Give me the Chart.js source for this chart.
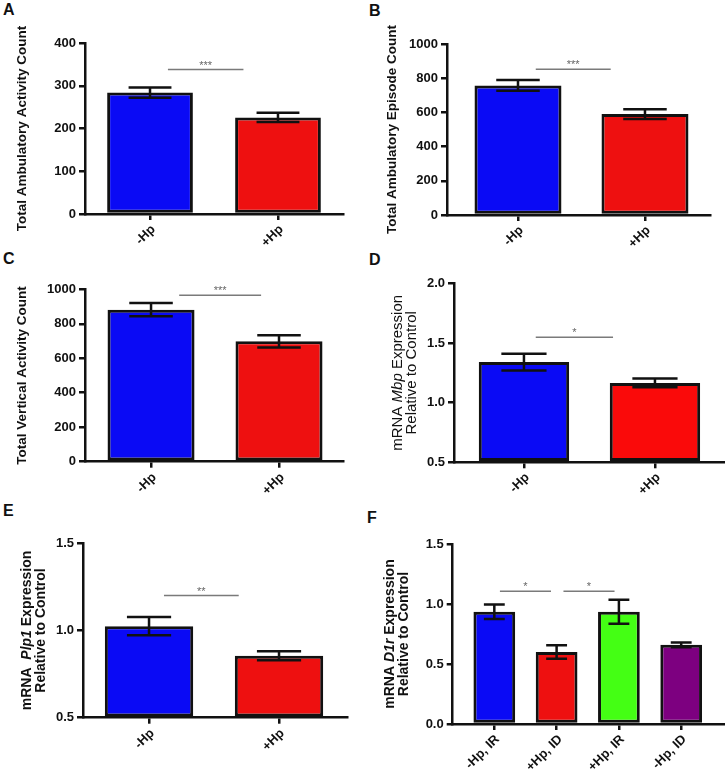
<!DOCTYPE html>
<html><head><meta charset="utf-8">
<script src="https://cdn.jsdelivr.net/npm/chart.js@4.4.1/dist/chart.umd.min.js"></script>
<style>
html,body{margin:0;padding:0;background:#fff}
body{width:725px;height:773px;position:relative;overflow:hidden;font-family:"Liberation Sans",Arial,sans-serif}
canvas{position:absolute}
.lbl{position:absolute;font-weight:bold;font-size:16px;line-height:16px;color:#111}
.xl{position:absolute;font-weight:bold;font-size:13px;line-height:14px;color:#111;white-space:nowrap;
    transform-origin:100% 50%;transform:translate(-100%,-50%) rotate(-45deg)}
</style></head><body>
<div class="lbl" style="left:3px;top:2px">A</div>
<div class="lbl" style="left:369px;top:3px">B</div>
<div class="lbl" style="left:3px;top:251px">C</div>
<div class="lbl" style="left:369px;top:252px">D</div>
<div class="lbl" style="left:3px;top:503px">E</div>
<div class="lbl" style="left:367px;top:510px">F</div>
<canvas id="cA"></canvas><canvas id="cB"></canvas><canvas id="cC"></canvas>
<canvas id="cD"></canvas><canvas id="cE"></canvas><canvas id="cF"></canvas>
<script>
// ---------------- data ----------------
const catsHp = ['-Hp', '+Hp'];
const catsF = ['-Hp, IR', '+Hp, ID', '+Hp, IR', '-Hp, ID'];
const colorsHp = ['#0a0af5', '#ee1010'];
const colorsF = ['#0a0af5', '#ee1010', '#44ff14', '#7d0080'];

const meanA = [284, 226];
const semA = [12, 11];
const ticksA = [0, 100, 200, 300, 400];
const sigA = [{from: 0.14, to: 0.73, y: 338, text: '***'}];

const meanB = [758, 590];
const semB = [31, 28];
const ticksB = [0, 200, 400, 600, 800, 1000];
const sigB = [{from: 0.14, to: 0.73, y: 852, text: '***'}];

const meanC = [882, 698];
const semC = [38, 35];
const ticksC = [0, 200, 400, 600, 800, 1000];
const sigC = [{from: 0.22, to: 0.86, y: 965, text: '***'}];

const meanD = [1.34, 1.165];
const semD = [0.07, 0.037];
const ticksD = [0.5, 1.0, 1.5, 2.0];
const sigD = [{from: 0.09, to: 0.68, y: 1.547, text: '*'}];

const meanE = [1.025, 0.855];
const semE = [0.052, 0.026];
const ticksE = [0.5, 1.0, 1.5];
const sigE = [{from: 0.115, to: 0.69, y: 1.2, text: '**'}];

const meanF = [0.935, 0.60, 0.935, 0.66];
const semF = [0.06, 0.057, 0.10, 0.02];
const ticksF = [0.0, 0.5, 1.0, 1.5];
const sigF = [{from: 0.09, to: 0.91, y: 1.106, text: '*'}, {from: 1.11, to: 1.93, y: 1.106, text: '*'}];

// ---------------- layout ----------------
const panels = [
  {id:'cA', left:0, top:0, w:362, h:255, area:{l:85, r:343, t:43, b:214}, xMin:-0.508, xMax:1.508,
   cats:catsHp, colors:colorsHp, mean:meanA, sem:semA, yTicks:ticksA, dec:0, sig:sigA, barPct:0.67,
   title:[[{t:'Total Ambulatory Activity Count'}]], titleX:[22], titleSize:13.5, titleWeight:'bold'},
  {id:'cB', left:362, top:0, w:363, h:255, area:{l:85, r:348, t:44, b:215}, xMin:-0.559, xMax:1.512,
   cats:catsHp, colors:colorsHp, mean:meanB, sem:semB, yTicks:ticksB, dec:0, sig:sigB, barPct:0.685,
   title:[[{t:'Total Ambulatory Episode Count'}]], titleX:[30], titleSize:13.5, titleWeight:'bold'},
  {id:'cC', left:0, top:255, w:362, h:260, area:{l:85, r:343, t:34.3, b:206.7}, xMin:-0.516, xMax:1.5,
   cats:catsHp, colors:colorsHp, mean:meanC, sem:semC, yTicks:ticksC, dec:0, sig:sigC, barPct:0.68,
   title:[[{t:'Total Vertical Activity Count'}]], titleX:[22], titleSize:13.5, titleWeight:'bold'},
  {id:'cD', left:362, top:255, w:363, h:260, area:{l:92, r:362, t:28.3, b:207.3}, xMin:-0.534, xMax:1.527,
   cats:catsHp, colors:['#0a0af5', '#fa0a0a'], mean:meanD, sem:semD, yTicks:ticksD, dec:1, sig:sigD, barPct:0.69,
   title:[[{t:'mRNA '},{t:'Mbp', i:true},{t:' Expression'}],[{t:'Relative to Control'}]], titleX:[36, 50], titleSize:15, titleWeight:'normal'},
  {id:'cE', left:0, top:515, w:362, h:258, area:{l:83, r:347, t:28.3, b:202.7}, xMin:-0.508, xMax:1.523,
   cats:catsHp, colors:colorsHp, mean:meanE, sem:semE, yTicks:ticksE, dec:1, sig:sigE, barPct:0.68,
   title:[[{t:'mRNA  '},{t:'Plp1', i:true},{t:' Expression'}],[{t:'Relative to Control'}]], titleX:[27, 41], titleSize:14, titleWeight:'bold'},
  {id:'cF', left:362, top:515, w:363, h:258, area:{l:90.7, r:362, t:29, b:209}, xMin:-0.668, xMax:3.687,
   cats:catsF, colors:colorsF, mean:meanF, sem:semF, yTicks:ticksF, dec:1, sig:sigF, barPct:0.67,
   title:[[{t:'mRNA '},{t:'D1r', i:true},{t:' Expression'}],[{t:'Relative to Control'}]], titleX:[28, 42], titleSize:14, titleWeight:'bold'}
];

const FONT = '"Liberation Sans", Arial, sans-serif';
const INK = '#111';

function makeDecor(p) {
  return {
    id: 'decor_' + p.id,
    afterDatasetsDraw(chart) {
      const ctx = chart.ctx, xs = chart.scales.x, ys = chart.scales.y;
      const meta = chart.getDatasetMeta(0);
      ctx.save();
      ctx.strokeStyle = INK; ctx.lineWidth = 2.5; ctx.lineCap = 'butt';
      meta.data.forEach((el, i) => {
        const yTop = ys.getPixelForValue(p.mean[i] + p.sem[i]);
        const yBot = ys.getPixelForValue(p.mean[i] - p.sem[i]);
        const half = el.width * 0.25;
        ctx.beginPath();
        ctx.moveTo(el.x, yTop); ctx.lineTo(el.x, yBot);
        ctx.moveTo(el.x - half, yTop); ctx.lineTo(el.x + half, yTop);
        ctx.moveTo(el.x - half, yBot); ctx.lineTo(el.x + half, yBot);
        ctx.stroke();
      });
      ctx.strokeStyle = '#7a7a7a'; ctx.lineWidth = 1.5; ctx.fillStyle = '#666';
      ctx.font = '11px ' + FONT; ctx.textAlign = 'center'; ctx.textBaseline = 'alphabetic';
      p.sig.forEach(sg => {
        const x1 = xs.getPixelForValue(sg.from), x2 = xs.getPixelForValue(sg.to), y = ys.getPixelForValue(sg.y);
        ctx.beginPath(); ctx.moveTo(x1, y); ctx.lineTo(x2, y); ctx.stroke();
        ctx.fillText(sg.text, (x1 + x2) / 2, y - 1);
      });
      ctx.restore();
    },
    afterDraw(chart) {
      const ctx = chart.ctx, ca = chart.chartArea;
      const cy = (ca.top + ca.bottom) / 2;
      const fontFor = seg => (seg.i ? 'italic ' : '') + p.titleWeight + ' ' + p.titleSize + 'px ' + FONT;
      p.title.forEach((line, li) => {
        ctx.save();
        ctx.translate(p.titleX[li], cy);
        ctx.rotate(-Math.PI / 2);
        let total = 0;
        line.forEach(seg => { ctx.font = fontFor(seg); total += ctx.measureText(seg.t).width; });
        let x = -total / 2;
        ctx.textBaseline = 'middle'; ctx.textAlign = 'left'; ctx.fillStyle = INK;
        line.forEach(seg => { ctx.font = fontFor(seg); ctx.fillText(seg.t, x, 0); x += ctx.measureText(seg.t).width; });
        ctx.restore();
      });
    }
  };
}

panels.forEach(p => {
  const cv = document.getElementById(p.id);
  cv.width = p.w; cv.height = p.h;
  cv.style.left = p.left + 'px'; cv.style.top = p.top + 'px';
  cv.style.width = p.w + 'px'; cv.style.height = p.h + 'px';
  const yMin = p.yTicks[0], yMax = p.yTicks[p.yTicks.length - 1];
  const chart = new Chart(cv, {
    type: 'bar',
    data: {
      datasets: [{
        data: p.mean.map((v, i) => ({x: i, y: v})),
        backgroundColor: p.colors,
        borderColor: INK, borderWidth: 3, borderSkipped: false,
        barPercentage: p.barPct, categoryPercentage: 1, base: yMin
      }]
    },
    options: {
      responsive: false, animation: false, devicePixelRatio: 1,
      layout: {padding: {left: 0, top: p.area.t, right: p.w - p.area.r, bottom: 0}},
      plugins: {legend: {display: false}, tooltip: {enabled: false}},
      scales: {
        x: {
          type: 'linear', min: p.xMin, max: p.xMax, offset: false,
          afterBuildTicks: s => { s.ticks = p.cats.map((c, i) => ({value: i})); },
          ticks: {display: false},
          grid: {display: true, drawOnChartArea: false, drawTicks: true, tickLength: 6, color: INK, lineWidth: 2.5, offset: false},
          border: {display: true, color: INK, width: 2.5},
          afterFit: s => { s.height = p.h - p.area.b; }
        },
        y: {
          type: 'linear', min: yMin, max: yMax, beginAtZero: false,
          afterBuildTicks: s => { s.ticks = p.yTicks.map(v => ({value: v})); },
          ticks: {callback: v => v.toFixed(p.dec), color: INK, padding: 3, font: {family: FONT, size: 13, weight: 'bold'}},
          grid: {display: true, drawOnChartArea: false, drawTicks: true, tickLength: 6, color: INK, lineWidth: 2.5},
          border: {display: true, color: INK, width: 2.5},
          afterFit: s => { s.width = p.area.l; }
        }
      }
    },
    plugins: [makeDecor(p)]
  });
  // rotated category labels as HTML text, placed at the library's tick pixels
  const xs = chart.scales.x, ca = chart.chartArea;
  p.cats.forEach((c, i) => {
    const d = document.createElement('div');
    d.className = 'xl';
    d.textContent = c;
    d.style.left = (p.left + xs.getPixelForValue(i) + 3) + 'px';
    d.style.top = (p.top + ca.bottom + 13) + 'px';
    document.body.appendChild(d);
  });
});
</script>
</body></html>
